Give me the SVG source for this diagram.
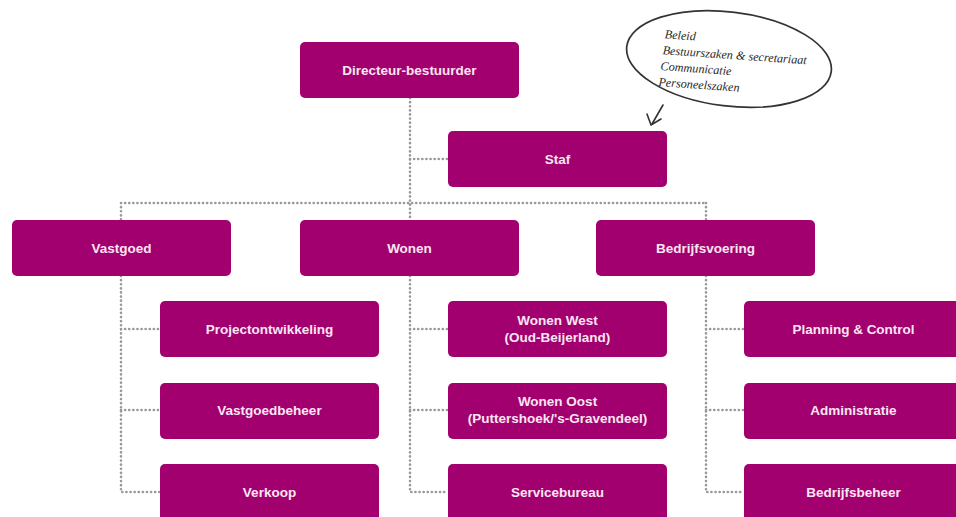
<svg xmlns="http://www.w3.org/2000/svg" width="956" height="517" viewBox="0 0 956 517">
<style>
.box{fill:#a1006e}
.lbl{font-family:"Liberation Sans",Arial,sans-serif;font-weight:bold;font-size:13.5px;fill:#fbe6f3;text-anchor:middle}
.dot{fill:none;stroke:#999999;stroke-width:2.6;stroke-linecap:round;stroke-dasharray:0.1 4}
.hand{font-family:"Liberation Serif","DejaVu Serif",serif;font-style:italic;font-size:12.2px;fill:#2a2a2a}
</style>
<rect width="956" height="517" fill="#ffffff"/>
<g id="connectors">
<path class="dot" d="M410 98V220M410 159H448M121 203H706M121 203V220M706 203V220"/>
<path class="dot" d="M121 276V492H160M121 329H160M121 410H160"/>
<path class="dot" d="M410 276V492H448M410 329H448M410 410H448"/>
<path class="dot" d="M706 276V492H744M706 329H744M706 410H744"/>
</g>
<g id="callout">
<ellipse cx="729" cy="59" rx="103" ry="47" transform="rotate(7 729 59)" fill="none" stroke="#333" stroke-width="1.7"/>
<path d="M663 105L652 124M647 114L651 125L661 119" fill="none" stroke="#333" stroke-width="1.6" stroke-linecap="round" stroke-linejoin="round"/>
<g transform="rotate(4 660 60)">
<text class="hand" x="663" y="38">Beleid</text>
<text class="hand" x="662" y="54">Bestuurszaken &amp; secretariaat</text>
<text class="hand" x="661" y="70">Communicatie</text>
<text class="hand" x="660" y="86">Personeelszaken</text>
</g>
</g>
<g id="directeur"><rect class="box" x="300" y="42" width="219" height="56" rx="5"/><text class="lbl" x="409.5" y="75">Directeur-bestuurder</text></g>
<g id="staf"><rect class="box" x="448" y="131" width="219" height="56" rx="5"/><text class="lbl" x="557.5" y="164">Staf</text></g>
<g id="vastgoed"><rect class="box" x="12" y="220" width="219" height="56" rx="5"/><text class="lbl" x="121.5" y="253">Vastgoed</text></g>
<g id="wonen"><rect class="box" x="300" y="220" width="219" height="56" rx="5"/><text class="lbl" x="409.5" y="253">Wonen</text></g>
<g id="bedrijfsvoering"><rect class="box" x="596" y="220" width="219" height="56" rx="5"/><text class="lbl" x="705.5" y="253">Bedrijfsvoering</text></g>
<g id="projectontwikkeling"><rect class="box" x="160" y="301" width="219" height="56" rx="5"/><text class="lbl" x="269.5" y="334">Projectontwikkeling</text></g>
<g id="vastgoedbeheer"><rect class="box" x="160" y="383" width="219" height="56" rx="5"/><text class="lbl" x="269.5" y="415">Vastgoedbeheer</text></g>
<g id="verkoop"><rect class="box" x="160" y="464" width="219" height="60" rx="5"/><text class="lbl" x="269.5" y="497">Verkoop</text></g>
<g id="wonen-west"><rect class="box" x="448" y="301" width="219" height="56" rx="5"/><text class="lbl" x="557.5" y="325">Wonen West</text><text class="lbl" x="557.5" y="342">(Oud-Beijerland)</text></g>
<g id="wonen-oost"><rect class="box" x="448" y="383" width="219" height="56" rx="5"/><text class="lbl" x="557.5" y="406">Wonen Oost</text><text class="lbl" x="557.5" y="423">(Puttershoek/'s-Gravendeel)</text></g>
<g id="servicebureau"><rect class="box" x="448" y="464" width="219" height="60" rx="5"/><text class="lbl" x="557.5" y="497">Servicebureau</text></g>
<g id="planning"><rect class="box" x="744" y="301" width="219" height="56" rx="5"/><text class="lbl" x="853.5" y="334">Planning &amp; Control</text></g>
<g id="administratie"><rect class="box" x="744" y="383" width="219" height="56" rx="5"/><text class="lbl" x="853.5" y="415">Administratie</text></g>
<g id="bedrijfsbeheer"><rect class="box" x="744" y="464" width="219" height="60" rx="5"/><text class="lbl" x="853.5" y="497">Bedrijfsbeheer</text></g>
</svg>
